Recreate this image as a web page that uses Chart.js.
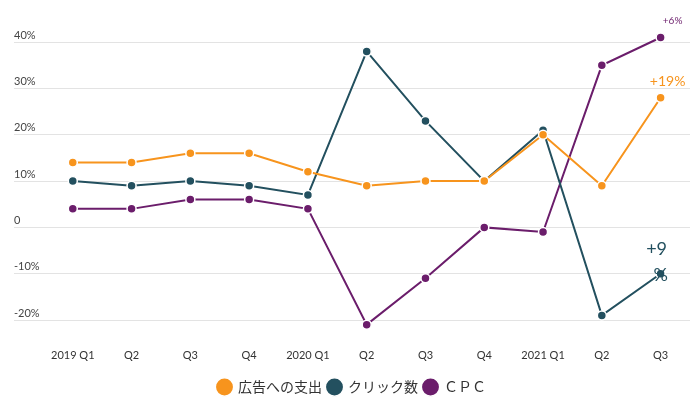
<!DOCTYPE html>
<html>
<head>
<meta charset="utf-8">
<script src="https://cdn.jsdelivr.net/npm/chart.js@4"></script>
<style>
  html, body { margin: 0; padding: 0; background: #fff; }
  #wrap { width: 700px; height: 399px; }
</style>
</head>
<body>
<div id="wrap"><canvas id="adChart" width="700" height="399"></canvas></div>
<script>
const quarters = ["2019 Q1", "Q2", "Q3", "Q4", "2020 Q1", "Q2", "Q3", "Q4", "2021 Q1", "Q2", "Q3"];
const adSpend = [14, 14, 16, 16, 12, 9, 10, 10, 20, 9, 28];
const clicks = [10, 9, 10, 9, 7, 38, 23, 10, 21, -19, -10];
const cpc = [4, 4, 6, 6, 4, -21, -11, 0, -1, 35, 41];
const yTicks = [-20, -10, 0, 10, 20, 30, 40];
const seriesNames = ["広告への支出", "クリック数", "ＣＰＣ"];
const colors = ["#f7941d", "#23505f", "#6b1d6b"];
const endNotes = ["+19%", "+9\n%", "+6%"];

const FONT = "Lato, 'Noto Sans CJK JP', sans-serif";

function toPoints(arr) {
  return arr.map((v, i) => ({ x: i, y: v }));
}

function makeSet(label, values, color) {
  return {
    label: label,
    data: toPoints(values),
    borderColor: color,
    backgroundColor: color,
    borderWidth: 2,
    pointRadius: 4.5,
    pointBorderColor: "#fff",
    pointBorderWidth: 1.5,
    tension: 0
  };
}

// text at the end of each line
const endLabels = {
  id: "endLabels",
  afterDatasetsDraw(chart) {
    const ctx = chart.ctx;
    const xs = chart.scales.x, ys = chart.scales.y;
    const last = quarters.length - 1;
    const cfg = [
      { vals: adSpend, size: 14, dx: 7, dy: -16 },
      { vals: clicks, size: 18, dx: -4, dy: -25 },
      { vals: cpc, size: 10, dx: 12, dy: -17 }
    ];
    ctx.save();
    ctx.textAlign = "center";
    ctx.textBaseline = "middle";
    cfg.forEach((c, i) => {
      const x = xs.getPixelForValue(last) + c.dx;
      const y = ys.getPixelForValue(c.vals[last]) + c.dy;
      ctx.fillStyle = colors[i];
      ctx.font = c.size + "px " + FONT;
      endNotes[i].split("\n").forEach((t, k) => {
        ctx.fillText(t, x + (k ? 4 : 0), y + k * 26);
      });
    });
    ctx.restore();
  }
};

new Chart(document.getElementById("adChart"), {
  type: "line",
  data: {
    datasets: [
      makeSet(seriesNames[0], adSpend, colors[0]),
      makeSet(seriesNames[1], clicks, colors[1]),
      makeSet(seriesNames[2], cpc, colors[2])
    ]
  },
  options: {
    responsive: false,
    animation: false,
    layout: { padding: { left: 14, right: 10, top: 19, bottom: -5 } },
    scales: {
      x: {
        type: "linear",
        min: -1,
        max: 10.5,
        afterBuildTicks: s => { s.ticks = quarters.map((q, i) => ({ value: i })); },
        afterFit: s => { s.height += 10; },
        grid: { display: false, drawTicks: false },
        border: { display: false },
        ticks: {
          padding: 1.5,
          autoSkip: false,
          maxRotation: 0,
          color: "#333",
          font: { family: FONT, size: 11 },
          callback: v => quarters[v] || ""
        }
      },
      y: {
        min: -26,
        max: 45,
        afterBuildTicks: s => { s.ticks = yTicks.map(v => ({ value: v })); },
        grid: { color: "#e3e3e3", lineWidth: 1, drawTicks: false },
        border: { display: false },
        ticks: {
          mirror: true,
          padding: 0,
          labelOffset: -7,
          color: "#444",
          font: { family: FONT, size: 11 },
          callback: v => v === 0 ? "0" : v + "%"
        }
      }
    },
    plugins: {
      legend: {
        position: "bottom",
        labels: {
          usePointStyle: true,
          pointStyle: "circle",
          boxWidth: 13,
          boxHeight: 13,
          padding: 6,
          color: "#333",
          font: { family: FONT, size: 14 }
        }
      },
      tooltip: { enabled: false }
    }
  },
  plugins: [endLabels]
});
</script>
</body>
</html>
